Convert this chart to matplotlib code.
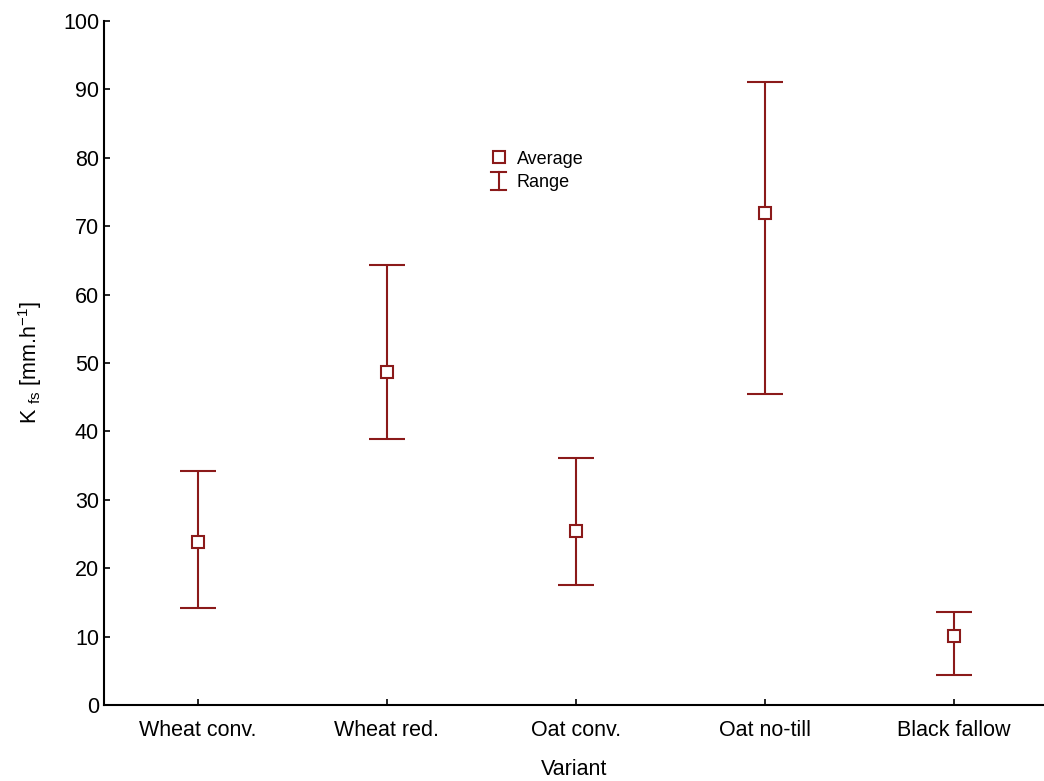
import matplotlib.pyplot as plt
import numpy as np
from matplotlib.legend_handler import HandlerBase
from matplotlib.lines import Line2D

plt.rcParams['font.family'] = ['Liberation Sans', 'DejaVu Sans']
plt.rcParams['mathtext.fontset'] = 'custom'
plt.rcParams['mathtext.rm'] = 'Liberation Sans'

variants = ['Wheat conv.', 'Wheat red.', 'Oat conv.', 'Oat no-till', 'Black fallow']
average = [23.8, 48.7, 25.4, 71.9, 10.1]
range_min = [14.2, 38.9, 17.5, 45.5, 4.4]
range_max = [34.2, 64.3, 36.1, 91.1, 13.6]

color = '#8b1a1a'
x = np.arange(len(variants))
avg = np.array(average)
lo = avg - np.array(range_min)
hi = np.array(range_max) - avg


# small "I" symbol for the legend entry of the range
class HandlerRange(HandlerBase):
    def create_artists(self, legend, orig, xd, yd, w, h, fontsize, trans):
        cx = xd + w / 2
        half = w * 0.42
        top = yd + h * 1.2
        bot = yd - h * 0.25
        kw = dict(color=color, lw=1.5, transform=trans)
        return [Line2D([cx, cx], [bot, top], **kw),
                Line2D([cx - half, cx + half], [top, top], **kw),
                Line2D([cx - half, cx + half], [bot, bot], **kw)]


fig = plt.figure(figsize=(10.44, 7.81), dpi=100)
ax = fig.add_axes([0.0996, 0.0973, 0.9004, 0.876])

ax.errorbar(x, avg, yerr=[lo, hi], fmt='none', ecolor=color, elinewidth=1.5,
            capsize=13.3, capthick=1.5, zorder=2)
avg_line, = ax.plot(x, avg, 's', ms=8, mfc='white', mec=color, mew=1.5,
                    ls='none', zorder=3)

ax.set_xlim(-0.497, 4.477)
ax.set_ylim(0, 100)
ax.set_yticks(np.arange(0, 101, 10))
ax.set_xticks(x)
ax.set_xticklabels(variants)
ax.tick_params(direction='in', length=4, width=1.2, labelsize=15.5)
ax.tick_params(axis='x', pad=11)
for s in ['top', 'right']:
    ax.spines[s].set_visible(False)
for s in ['left', 'bottom']:
    ax.spines[s].set_linewidth(1.5)

ax.set_xlabel('Variant', fontsize=15.5, labelpad=13)
ax.set_ylabel(r'K $_{\mathrm{fs}}$ [mm.h$^{-1}$]', fontsize=15.5, labelpad=14)

range_proxy = Line2D([], [], color=color)
ax.legend([avg_line, range_proxy], ['Average', 'Range'],
          handler_map={range_proxy: HandlerRange()},
          loc='upper left', bbox_to_anchor=(0.393, 0.834), frameon=False,
          fontsize=13, handlelength=1.0, handletextpad=0.5, labelspacing=0.35)

fig.savefig('out.png', dpi=100)
